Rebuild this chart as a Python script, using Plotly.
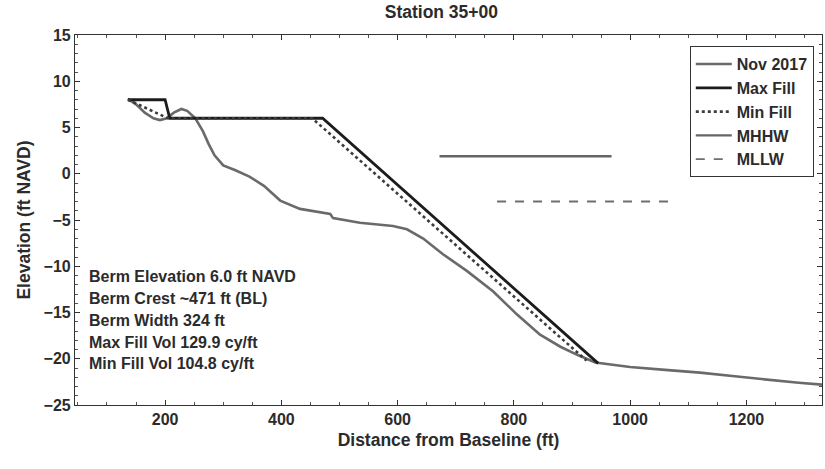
import plotly.graph_objects as go

# Beach profile survey, Station 35+00
survey_x = [136, 150, 165, 180, 191, 203, 215, 228, 238, 252, 265, 275, 285, 300, 320,
            345, 370, 398, 432, 466, 484, 489, 535, 592, 616, 644, 678, 719, 764, 805,
            845, 880, 910, 940, 1000, 1060, 1120, 1180, 1240, 1290, 1330]
survey_y = [8.1, 7.5, 6.6, 6.0, 5.8, 6.0, 6.6, 7.0, 6.8, 6.0, 4.6, 3.2, 2.0, 0.9, 0.4,
            -0.3, -1.3, -2.9, -3.8, -4.2, -4.35, -4.8, -5.3, -5.65, -6.0, -7.0, -8.7, -10.5, -12.7, -15.2,
            -17.4, -18.7, -19.6, -20.4, -20.9, -21.2, -21.5, -21.9, -22.3, -22.6, -22.8]

# Design fill templates
max_fill_x = [136, 200, 208, 471, 945]
max_fill_y = [8.0, 8.0, 6.0, 6.0, -20.5]
min_fill_x = [136, 205, 453, 925]
min_fill_y = [8.0, 6.0, 6.0, -20.2]

# Tidal datums
mhhw_x = [672, 968]
mhhw_y = [1.9, 1.9]
mllw_x = [771, 1069]
mllw_y = [-3.0, -3.0]

info_lines = [
    "Berm Elevation 6.0 ft NAVD",
    "Berm Crest ~471 ft (BL)",
    "Berm Width 324 ft",
    "Max Fill Vol 129.9 cy/ft",
    "Min Fill Vol 104.8 cy/ft",
]

FONT = "Liberation Sans, Arial, sans-serif"
INK = "#2b2b2b"

fig = go.Figure()
fig.add_trace(go.Scatter(x=survey_x, y=survey_y, mode="lines", name="Nov 2017",
                         line=dict(color="#6a6a6a", width=2.6)))
fig.add_trace(go.Scatter(x=max_fill_x, y=max_fill_y, mode="lines", name="Max Fill",
                         line=dict(color="#1c1c1c", width=2.8)))
fig.add_trace(go.Scatter(x=min_fill_x, y=min_fill_y, mode="lines", name="Min Fill",
                         line=dict(color="#3c3c3c", width=2.6, dash="dot")))
fig.add_trace(go.Scatter(x=mhhw_x, y=mhhw_y, mode="lines", name="MHHW",
                         line=dict(color="#666666", width=2.4)))
fig.add_trace(go.Scatter(x=mllw_x, y=mllw_y, mode="lines", name="MLLW",
                         line=dict(color="#6e6e6e", width=1.8, dash="dash")))

for i, line in enumerate(info_lines):
    fig.add_annotation(text="<b>%s</b>" % line, xref="paper", yref="paper",
                       x=0.016, y=0.346 - i * 0.0586, xanchor="left", yanchor="middle",
                       showarrow=False, font=dict(family=FONT, size=16, color=INK))

axis_common = dict(showline=True, linecolor="#333333", linewidth=1.2, mirror="allticks",
                   ticks="inside", ticklen=5, tickcolor="#333333", showgrid=False,
                   zeroline=False,
                   tickfont=dict(family=FONT, size=16, color=INK, weight="bold"))

fig.update_xaxes(range=[45, 1330], dtick=200, tick0=0,
                 minor=dict(ticks="inside", ticklen=3, dtick=50, tickcolor="#555555"),
                 title=dict(text="Distance from Baseline (ft)", standoff=6,
                            font=dict(family=FONT, size=17.5, color=INK, weight="bold")),
                 **axis_common)
fig.update_yaxes(range=[-25, 15], dtick=5, tick0=0,
                 minor=dict(ticks="inside", ticklen=3, dtick=1, tickcolor="#555555"),
                 title=dict(text="Elevation (ft NAVD)", standoff=8,
                            font=dict(family=FONT, size=17.5, color=INK, weight="bold")),
                 **axis_common)

fig.update_layout(
    width=825, height=469,
    margin=dict(l=75, r=3, t=35, b=64),
    paper_bgcolor="white", plot_bgcolor="white",
    title=dict(text="<b>Station 35+00</b>", x=0.535, xanchor="center", y=0.975, yanchor="middle",
               font=dict(family=FONT, size=17.5, color=INK)),
    legend=dict(x=0.823, y=0.97, xanchor="left", yanchor="top",
                bgcolor="white", bordercolor="#333333", borderwidth=1,
                itemwidth=36, tracegroupgap=0,
                font=dict(family=FONT, size=16, color=INK, weight="bold")),
    showlegend=True,
)

fig.write_html("out.html")
